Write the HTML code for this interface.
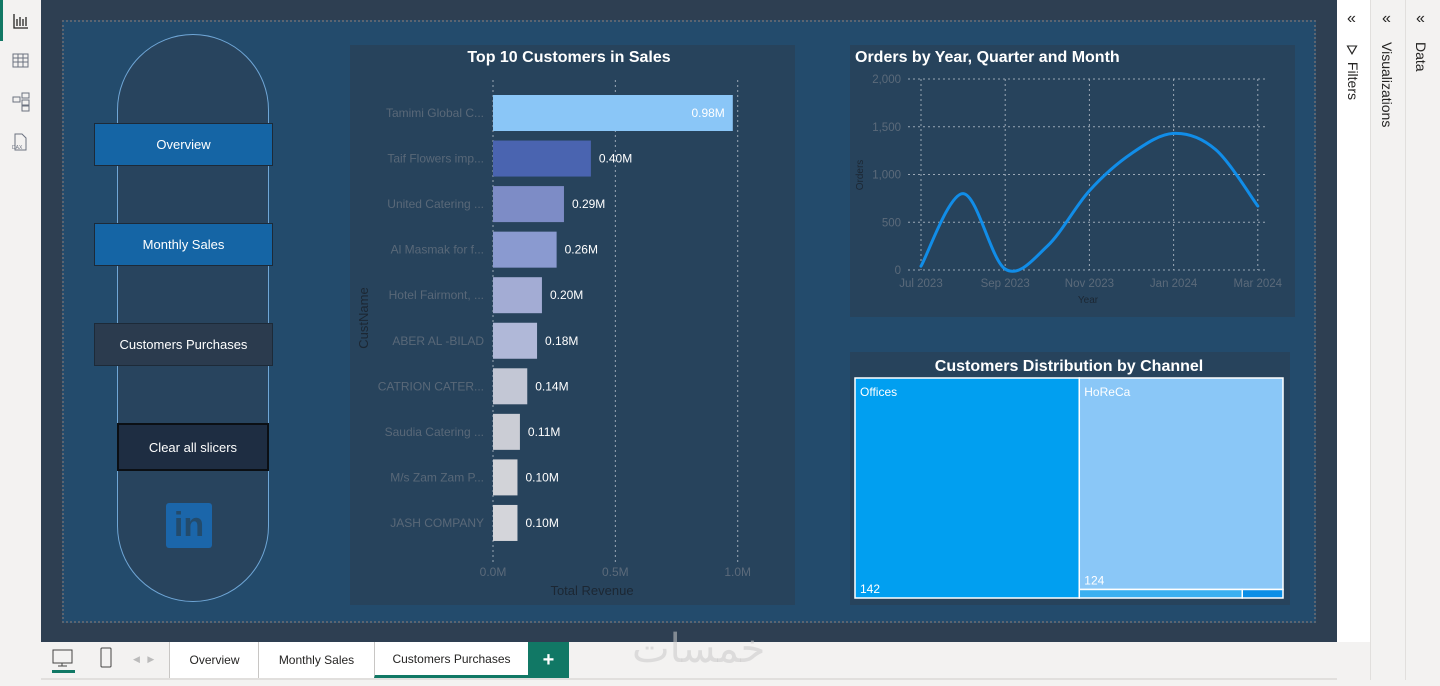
<!DOCTYPE html>
<html><head><meta charset="utf-8">
<style>
*{box-sizing:border-box;margin:0;padding:0}
body{width:1440px;height:680px;overflow:hidden;background:#f3f2f1;font-family:"Liberation Sans",sans-serif;position:relative}
.abs{position:absolute}
.nav{position:absolute;left:94px;width:179px;height:43px;color:#fff;font-size:13px;display:flex;align-items:center;justify-content:center;border:1px solid #1d2a38}
.tab{position:absolute;top:642px;height:36px;background:#fff;font-size:12px;color:#252423;display:flex;align-items:center;justify-content:center;border-left:1px solid #c8c6c4}
.side{position:absolute;top:0;height:642px;writing-mode:vertical-rl;font-size:14px;color:#252423}
</style></head><body>
<div class="abs" style="left:0;top:0;width:40px;height:680px;background:#f3f2f1">
  <div class="abs" style="left:0;top:0;width:3px;height:41px;background:#117865"></div>
  <svg class="abs" style="left:12px;top:12px" width="18" height="18"><path d="M2 2v14h14M5 14V7M8 14V5M11 14V7M14 14V5" stroke="#252423" fill="none" stroke-width="1.3"/></svg>
  <svg class="abs" style="left:12px;top:53px" width="18" height="16"><rect x="1" y="1" width="15" height="13" fill="none" stroke="#6b7280"/><path d="M1 5h15M1 9h15M6 1v13M11 1v13" stroke="#6b7280"/></svg>
  <svg class="abs" style="left:12px;top:92px" width="18" height="20"><rect x="1" y="5" width="7" height="5" fill="none" stroke="#6b7280"/><rect x="10" y="1" width="7" height="5" fill="none" stroke="#6b7280"/><rect x="10" y="8" width="7" height="5" fill="none" stroke="#6b7280"/><rect x="10" y="14" width="7" height="5" fill="none" stroke="#6b7280"/></svg>
  <svg class="abs" style="left:11px;top:133px" width="18" height="18"><path d="M4 1h7l4 4v12H4z" fill="none" stroke="#6b7280"/><text x="1" y="16" font-size="5" fill="#6b7280">DAX</text></svg>
</div>
<div class="abs" style="left:41px;top:0;width:1296px;height:642px;background:#2e3f52"></div>
<div class="abs" style="left:62px;top:20px;width:1254px;height:603px;background:#234b6c;border:2px dotted #5b6470"></div>

<div class="abs" style="left:117px;top:34px;width:152px;height:568px;border:1px solid #6fa6d6;border-radius:76px;background:#28445e"></div>
<div class="nav" style="top:123px;background:#1565a5">Overview</div>
<div class="nav" style="top:223px;background:#1565a5">Monthly Sales</div>
<div class="nav" style="top:323px;background:#2b3b4e">Customers Purchases</div>
<div class="nav" style="left:117px;width:152px;top:423px;height:48px;background:#1e2d42;border:2px solid #0b0f14">Clear all slicers</div>
<div class="abs" style="left:166px;top:503px;width:46px;height:45px;background:#1b66aa;color:#234b6c;font-weight:bold;font-size:34px;line-height:45px;text-align:center;border-radius:3px">in</div>

<div class="abs" style="left:350px;top:45px;width:445px;height:560px;background:#27435c"></div>
<svg class="abs" style="left:0;top:0" width="1440" height="680" id="bars">
<text x="569" y="62" text-anchor="middle" fill="#fff" font-size="16" font-weight="bold">Top 10 Customers in Sales</text>
<text x="592" y="595" text-anchor="middle" fill="#1c2733" font-size="13">Total Revenue</text>
<text transform="translate(368,318) rotate(-90)" text-anchor="middle" fill="#1c2733" font-size="13">CustName</text>
</svg>

<div class="abs" style="left:850px;top:45px;width:445px;height:272px;background:#27435c"></div>
<svg class="abs" style="left:0;top:0" width="1440" height="680" id="line">
<text x="855" y="62" fill="#fff" font-size="16" font-weight="bold">Orders by Year, Quarter and Month</text>
<text x="1088" y="303" text-anchor="middle" fill="#1c2733" font-size="10">Year</text>
<text transform="translate(863,175) rotate(-90)" text-anchor="middle" fill="#1c2733" font-size="10">Orders</text>
</svg>

<div class="abs" style="left:850px;top:352px;width:440px;height:253px;background:#27435c"></div>
<svg class="abs" style="left:0;top:0" width="1440" height="680" id="tree">
<text x="1069" y="371" text-anchor="middle" fill="#fff" font-size="16" font-weight="bold">Customers Distribution by Channel</text>
</svg>

<div class="abs" style="left:1337px;top:0;width:33px;height:642px;background:#fff"></div>
<div class="abs" style="left:1370px;top:0;width:35px;height:680px;background:#f3f2f1;border-left:1px solid #e1dfdd"></div>
<div class="abs" style="left:1405px;top:0;width:35px;height:680px;background:#f3f2f1;border-left:1px solid #e1dfdd"></div>
<div class="abs" style="left:1347px;top:10px;font-size:16px;color:#252423">«</div>
<div class="abs" style="left:1382px;top:10px;font-size:16px;color:#252423">«</div>
<div class="abs" style="left:1416px;top:10px;font-size:16px;color:#252423">«</div>
<div class="side" style="left:1345px;top:44px">⛛ Filters</div>
<div class="side" style="left:1379px;top:42px">Visualizations</div>
<div class="side" style="left:1413px;top:42px">Data</div>

<div class="abs" style="left:41px;top:642px;width:1296px;height:38px;background:#f3f2f1;border-bottom:2px solid #e1dfdd"></div>
<svg class="abs" style="left:51px;top:648px" width="24" height="26"><rect x="2" y="2" width="19" height="13" fill="none" stroke="#444"/><path d="M11 15v3M7 18h9" stroke="#444"/><rect x="1" y="22" width="23" height="3" fill="#117865"/></svg>
<svg class="abs" style="left:100px;top:647px" width="12" height="22"><rect x="1" y="1" width="10" height="19" rx="1" fill="none" stroke="#444"/></svg>
<div class="abs" style="left:133px;top:654px;font-size:9px;color:#bbb">◀ &nbsp;&nbsp;▶</div>
<div class="tab" style="left:169px;width:90px">Overview</div>
<div class="tab" style="left:258px;width:116px">Monthly Sales</div>
<div class="tab" style="left:374px;width:154px;border-bottom:3px solid #117865">Customers Purchases</div>
<div class="tab" style="left:528px;width:41px;background:#117865;color:#fff;font-size:20px;font-weight:bold;border:none">+</div>
<div class="abs" style="left:632px;top:626px;font-size:40px;color:rgba(200,200,200,0.55);font-family:'Liberation Sans','Noto Sans CJK SC',sans-serif">خمسات</div>

<script>
const NS='http://www.w3.org/2000/svg';
function mk(p,t,a){const e=document.createElementNS(NS,t);for(const k in a)e.setAttribute(k,a[k]);p.appendChild(e);return e;}

// ---- bar chart data
const customers=['Tamimi Global C...','Taif Flowers imp...','United Catering ...','Al Masmak for f...','Hotel Fairmont, ...','ABER AL -BILAD','CATRION CATER...','Saudia Catering ...','M/s Zam Zam P...','JASH COMPANY'];
const revenue=[0.98,0.40,0.29,0.26,0.20,0.18,0.14,0.11,0.10,0.10];
const barColors=['#8ac6f7','#4a64b0','#7d8cc6','#8a9ad0','#a3acd4','#b0b8d8','#c3c7d5','#cbcdd5','#d2d3d8','#d4d5da'];
const revTicks=[0,0.5,1.0];
const revTickLabels=['0.0M','0.5M','1.0M'];
const bx=v=>493+v*244.7, by=i=>113+i*45.55;
const B=document.getElementById('bars');
revTicks.forEach((t,i)=>{
  const g=mk(B,'line',{x1:bx(t),x2:bx(t),y1:80,y2:562,stroke:'#9aa7b5','stroke-dasharray':'2,3'});
  
  
  const l=mk(B,'text',{x:bx(t),y:576,'text-anchor':'middle',fill:'#5b6a7a','font-size':12});l.textContent=revTickLabels[i];
  
  
});
customers.forEach((c,i)=>{
  const y=by(i);
  const r=mk(B,'rect',{x:493,y:y-18,width:bx(revenue[i])-493,height:36,fill:barColors[i]});
  
  
  const l=mk(B,'text',{x:484,y:y+4,'text-anchor':'end',fill:'#596878','font-size':12});l.textContent=c;
  
  
  const inside=i===0;
  const v=mk(B,'text',{x:inside?bx(revenue[i])-8:bx(revenue[i])+8,y:y+4,'text-anchor':inside?'end':'start',fill:'#fff','font-size':12});
  v.textContent=revenue[i].toFixed(2)+'M';
  
  
});

// ---- line chart data
const months=['Jul 2023','Aug 2023','Sep 2023','Oct 2023','Nov 2023','Dec 2023','Jan 2024','Feb 2024','Mar 2024'];
const orders=[40,800,10,250,830,1220,1430,1260,670];
const orderTicks=[0,500,1000,1500,2000];
const orderTickLabels=['0','500','1,000','1,500','2,000'];
const monthTickIdx=[0,2,4,6,8];
const lx=i=>921+i*42.1, ly=v=>270-v*0.0955;
const L=document.getElementById('line');
orderTicks.forEach((t,i)=>{
  const g=mk(L,'line',{x1:908,x2:1268,y1:ly(t),y2:ly(t),stroke:'#9aa7b5','stroke-dasharray':'2,3'});
  
  
  const l=mk(L,'text',{x:901,y:ly(t)+4,'text-anchor':'end',fill:'#5b6a7a','font-size':11.5});l.textContent=orderTickLabels[i];
  
  
});
monthTickIdx.forEach(i=>{
  const g=mk(L,'line',{x1:lx(i),x2:lx(i),y1:79,y2:270,stroke:'#9aa7b5','stroke-dasharray':'2,3'});
  
  
  const l=mk(L,'text',{x:lx(i),y:287,'text-anchor':'middle',fill:'#5b6a7a','font-size':11.5});l.textContent=months[i];
  
  
});
const P=orders.map((v,i)=>[lx(i),ly(v)]);
let d='M'+P[0][0]+','+P[0][1];
for(let i=0;i<P.length-1;i++){
  const p0=P[Math.max(0,i-1)],p1=P[i],p2=P[i+1],p3=P[Math.min(P.length-1,i+2)];
  const c1=[p1[0]+(p2[0]-p0[0])/6,p1[1]+(p2[1]-p0[1])/6],c2=[p2[0]-(p3[0]-p1[0])/6,p2[1]-(p3[1]-p1[1])/6];
  d+=' C'+c1+' '+c2+' '+p2;
}
const path=mk(L,'path',{d:d,fill:'none',stroke:'#118de8','stroke-width':3,'stroke-linecap':'round'});



// ---- treemap data
const channels=['Offices','HoReCa','Other A','Other B'];
const counts=[142,124,4,1];
const tmColors=['#019ff0','#8ac7f7','#3bb0f0','#0a8ee6'];
const T=document.getElementById('tree');
const X0=855,Y0=378,W=428,H=220;
const total=counts.reduce((a,b)=>a+b,0);
const w0=W*counts[0]/total;
function cell(x,y,w,h,i,label){
  const r=mk(T,'rect',{x:x,y:y,width:w,height:h,fill:tmColors[i],stroke:'#fff','stroke-width':1.5});
  
  
  if(label){
    const a=mk(T,'text',{x:x+5,y:y+18,fill:'#fff','font-size':12});a.textContent=channels[i];
    
    
    const b=mk(T,'text',{x:x+5,y:y+h-5,fill:'#fff','font-size':12});b.textContent=counts[i];
    
    
  }
}
cell(X0,Y0,w0,H,0,true);
const restW=W-w0,rest=total-counts[0];
const h1=H*counts[1]/rest;
cell(X0+w0,Y0,restW,h1,1,true);
const small=counts[2]+counts[3];
const w2=restW*counts[2]/small;
cell(X0+w0,Y0+h1,w2,H-h1,2,false);
cell(X0+w0+w2,Y0+h1,restW-w2,H-h1,3,false);
</script>
</body></html>
